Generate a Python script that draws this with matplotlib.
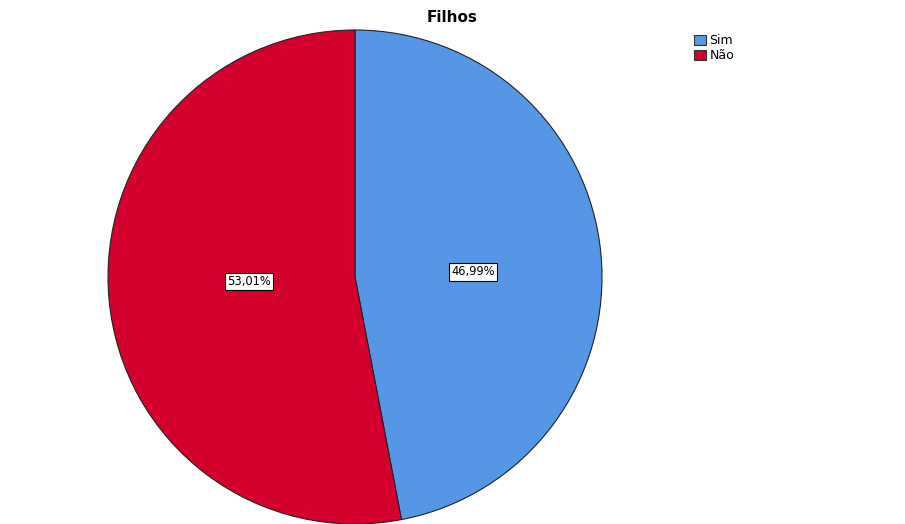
import numpy as np
import matplotlib.pyplot as plt
from matplotlib.patches import Patch

categorias = ['Sim', 'Não']
percentuais = [46.99, 53.01]
cores = ['#5596E6', '#D3002D']

plt.rcParams['font.family'] = ['DejaVu Sans']

fig = plt.figure(figsize=(9.05, 5.24), dpi=100)
# centro do círculo em (355, 277) px, raio ~247 px
cx, cy, r = 355, 277, 247
ax = fig.add_axes([(cx - r) / 905, (524 - cy - r) / 524, 2 * r / 905, 2 * r / 524])

wedges, textos = ax.pie(
    percentuais, colors=cores, startangle=90, counterclock=False,
    labels=[f'{p:.2f}'.replace('.', ',') + '%' for p in percentuais],
    wedgeprops=dict(edgecolor='#222222', linewidth=0.8),
    textprops=dict(fontsize=8.3, ha='center', va='center'),
)

# rótulos mais perto da horizontal, como no SPSS
dist = [0.48, 0.43]
for w, t, d in zip(wedges, textos, dist):
    ang = np.deg2rad((w.theta1 + w.theta2) / 2)
    t.set_position((d * np.cos(ang), 0.45 * d * np.sin(ang)))
    t.set_bbox(dict(facecolor='white', edgecolor='black', linewidth=0.8, pad=1.6))

ax.set_xlim(-1, 1)
ax.set_ylim(-1, 1)
ax.set_aspect('equal')
ax.axis('off')

fig.text(452 / 905, 1 - 18 / 524, 'Filhos', ha='center', va='center',
         fontsize=11, fontweight='bold')

handles = [Patch(facecolor=c, edgecolor='#333333', linewidth=0.8) for c in cores]
fig.legend(handles, categorias, loc='upper left',
           bbox_to_anchor=(688 / 905, 1 - 28 / 524), frameon=False,
           fontsize=9, handlelength=0.9, handleheight=0.9,
           handletextpad=0.3, labelspacing=0.15, borderpad=0)

fig.savefig('out.png', dpi=100, facecolor='white')
